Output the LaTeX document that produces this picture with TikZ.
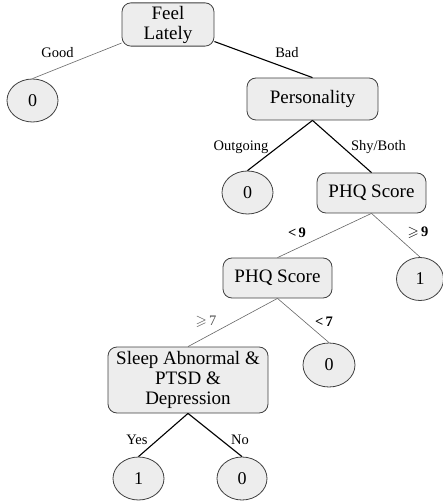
\documentclass[tikz,border=0pt]{standalone}
\usepackage{amsmath, amssymb}
\usepackage{fontspec}
\setmainfont{Liberation Serif}
\usetikzlibrary{shapes.geometric}
\tikzset{
    % decision node, rounded grey box
    test/.style={draw=black!75, fill=black!7, rounded corners=9pt, thick,
        inner sep=3pt, align=center, font=\fontsize{19}{20}\selectfont},
    % leaf with the class value
    leaf/.style={ellipse, draw=black!75, fill=black!7, thick, inner sep=0pt,
        minimum width=51pt, minimum height=43pt,
        font=\fontsize{18}{20}\selectfont},
    % branches: taken path drawn darker
    major/.style={black, line width=1.1pt},
    minor/.style={black!60, line width=0.6pt},
    % branch labels
    cond/.style={inner sep=1pt, font=\fontsize{14.5}{16}\selectfont},
}

\begin{document}
\begin{tikzpicture}[x=1pt, y=-1pt]
    \useasboundingbox (0,0) rectangle (443,502);

    % ---- root ----
    \node[test, minimum width=92pt, minimum height=41pt] (feel) at (168, 24.5) {Feel\\Lately};
    \node[leaf] (good) at (32.5, 100.5) {0};
    \node[test, minimum width=131pt, minimum height=42pt] (pers) at (312.5, 99) {Personality};

    \draw[minor] (feel) -- (good.north);
    \draw[major] (feel) -- (pers.north);
    \node[cond] (lgood) at (57.5, 53) {Good};
    \node[cond] (lbad) at (287, 53) {Bad};

    % ---- personality ----
    \node[leaf] (out) at (247.5, 192.5) {0};
    \node[test, minimum width=109pt, minimum height=40pt] (phqA) at (371.5, 193) {PHQ Score};

    \draw[major] (pers.south) -- (out.north);
    \draw[major] (pers.south) -- (phqA.north);
    \node[cond] (lout) at (241, 147) {Outgoing};
    \node[cond] (lshy) at (378.5, 147) {Shy/Both};

    % ---- PHQ score, first split ----
    \node[test, minimum width=109pt, minimum height=40pt] (phqB) at (277.5, 278) {PHQ Score};
    \node[leaf, minimum width=47pt] (high) at (420, 279) {1};

    \draw[minor] (phqA.south) -- (phqB.north);
    \draw[minor] (phqA.south) -- (high.north);
    \node[cond] (llt9) at (297, 233) {\textbf{<\,9}};
    \node[cond] (lge9) at (418, 233) {$\geqslant$\,\textbf{9}};

    % ---- PHQ score, second split ----
    \node[test, minimum width=160pt, minimum height=66pt] (sleep) at (188, 380)
        {Sleep Abnormal \&\\PTSD \&\\Depression};
    \node[leaf, minimum width=52pt, minimum height=44pt] (low) at (329, 365) {0};

    \draw[minor] (phqB.south) -- (sleep.north);
    \draw[minor] (phqB.south) -- (low.north);
    \node[cond, text=black!70] (lge7) at (206, 322) {$\geqslant$\,7};
    \node[cond] (llt7) at (324, 322) {\textbf{<\,7}};

    % ---- sleep / PTSD / depression ----
    \node[leaf] (yes) at (138.5, 478.5) {1};
    \node[leaf, minimum width=50pt] (no) at (242, 478.5) {0};

    \draw[major] (sleep.south) -- (yes.north);
    \draw[major] (sleep.south) -- (no.north);
    \node[cond] (lyes) at (137, 440) {Yes};
    \node[cond] (lno) at (240, 440) {No};

\end{tikzpicture}
\end{document}
